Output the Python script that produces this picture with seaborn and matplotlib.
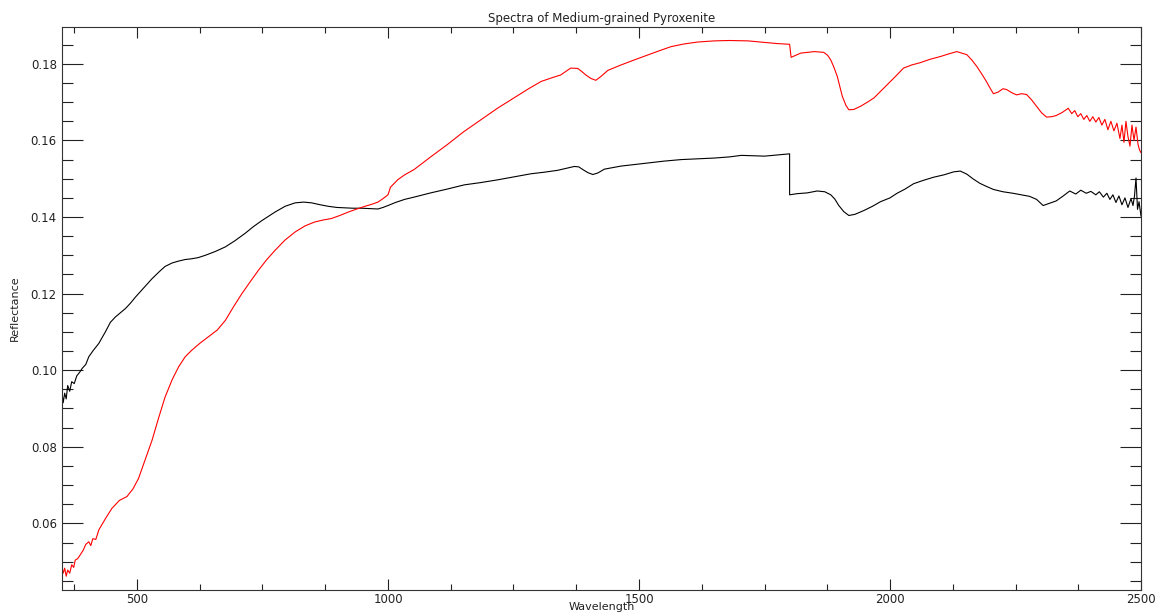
import pandas as pd
import matplotlib
matplotlib.use('Agg')
import matplotlib.pyplot as plt
from matplotlib.ticker import MultipleLocator, FormatStrFormatter
import seaborn as sns

# 검은색 스펙트럼 (wavelength, reflectance)
blackWave = [350, 353, 356, 359, 362, 366, 370, 375, 380, 386, 391, 398, 404, 412, 424,
             437, 447, 457, 467, 477, 487, 497, 510, 530, 545, 556, 570, 583, 596, 609,
             622, 636, 656, 676, 695, 715, 732, 748, 762, 775, 795, 815, 832, 848, 865,
             881, 898, 914, 930, 947, 963, 980, 990, 1000, 1015, 1033, 1052, 1085, 1118,
             1152, 1185, 1218, 1251, 1285, 1311, 1338, 1355, 1371, 1380, 1388, 1398, 1408,
             1418, 1431, 1447, 1464, 1490, 1517, 1550, 1584, 1617, 1650, 1680, 1704, 1730,
             1750, 1775, 1800, 1800, 1815, 1835, 1855, 1870, 1882, 1890, 1898, 1908, 1918,
             1930, 1948, 1965, 1981, 2000, 2014, 2030, 2047, 2067, 2087, 2107, 2127, 2140,
             2153, 2165, 2179, 2192, 2206, 2225, 2245, 2262, 2278, 2292, 2305, 2318, 2331,
             2345, 2358, 2370, 2380, 2391, 2400, 2410, 2417, 2425, 2432, 2438, 2444, 2450,
             2456, 2462, 2468, 2474, 2480, 2484, 2487, 2490, 2493, 2496, 2500]
blackRefl = [0.0950, 0.0915, 0.0940, 0.0925, 0.0960, 0.0945, 0.0970, 0.0965, 0.0985, 0.0995,
             0.1005, 0.1015, 0.1035, 0.1050, 0.1070, 0.1100, 0.1125, 0.1139, 0.1150, 0.1161,
             0.1175, 0.1191, 0.1210, 0.1239, 0.1258, 0.1271, 0.1280, 0.1285, 0.1289, 0.1291,
             0.1294, 0.1300, 0.1310, 0.1322, 0.1338, 0.1357, 0.1375, 0.1390, 0.1402, 0.1413,
             0.1428, 0.1437, 0.1439, 0.1437, 0.1432, 0.1428, 0.1425, 0.1424, 0.1423, 0.1423,
             0.1422, 0.1421, 0.1425, 0.1430, 0.1438, 0.1446, 0.1452, 0.1463, 0.1473, 0.1484,
             0.1490, 0.1497, 0.1505, 0.1513, 0.1517, 0.1522, 0.1527, 0.1532, 0.1531, 0.1524,
             0.1516, 0.1511, 0.1515, 0.1525, 0.1529, 0.1533, 0.1537, 0.1541, 0.1546, 0.1550,
             0.1552, 0.1554, 0.1557, 0.1561, 0.1560, 0.1559, 0.1562, 0.1565, 0.1458, 0.1461,
             0.1463, 0.1468, 0.1466, 0.1458, 0.1447, 0.1430, 0.1414, 0.1404, 0.1407, 0.1417,
             0.1428, 0.1440, 0.1450, 0.1462, 0.1473, 0.1487, 0.1496, 0.1504, 0.1510, 0.1518,
             0.1520, 0.1512, 0.1500, 0.1488, 0.1480, 0.1472, 0.1466, 0.1462, 0.1458, 0.1454,
             0.1446, 0.1430, 0.1436, 0.1442, 0.1455, 0.1468, 0.1460, 0.1470, 0.1462, 0.1467,
             0.1458, 0.1466, 0.1452, 0.1462, 0.1446, 0.1458, 0.1438, 0.1455, 0.1432, 0.1450,
             0.1425, 0.1448, 0.1430, 0.1455, 0.1502, 0.1420, 0.1440, 0.1402]

# 빨간색 스펙트럼
redWave = [350, 353, 356, 359, 362, 366, 370, 374, 377, 382, 388, 393, 398, 404, 408, 412,
           418, 424, 437, 450, 465, 480, 492, 503, 516, 530, 543, 556, 570, 583, 596, 609,
           625, 642, 660, 676, 692, 709, 725, 742, 758, 775, 795, 815, 835, 854, 870, 887,
           904, 921, 938, 954, 967, 980, 990, 1000, 1005, 1020, 1033, 1052, 1085, 1118, 1150,
           1185, 1218, 1251, 1280, 1305, 1325, 1344, 1364, 1378, 1386, 1394, 1404, 1414, 1425,
           1438, 1464, 1490, 1517, 1540, 1564, 1590, 1617, 1650, 1680, 1717, 1750, 1775, 1800,
           1803, 1822, 1849, 1868, 1876, 1882, 1888, 1895, 1905, 1912, 1918, 1928, 1941, 1955,
           1968, 1981, 1994, 2010, 2027, 2043, 2060, 2080, 2100, 2117, 2133, 2143, 2153, 2163,
           2173, 2183, 2192, 2200, 2206, 2215, 2225, 2232, 2242, 2252, 2262, 2272, 2282, 2292,
           2302, 2312, 2322, 2331, 2343, 2355, 2362, 2368, 2374, 2380, 2386, 2392, 2398, 2404,
           2410, 2416, 2422, 2428, 2434, 2440, 2446, 2452, 2458, 2462, 2466, 2470, 2474, 2478,
           2482, 2486, 2490, 2494, 2497, 2500]
redRefl = [0.0488, 0.0470, 0.0483, 0.0462, 0.0478, 0.0470, 0.0492, 0.0485, 0.0504, 0.0508,
           0.0520, 0.0530, 0.0545, 0.0552, 0.0542, 0.0560, 0.0558, 0.0583, 0.0612, 0.0639,
           0.0660, 0.0670, 0.0690, 0.0717, 0.0765, 0.0817, 0.0875, 0.0930, 0.0975, 0.1009,
           0.1035, 0.1052, 0.1070, 0.1087, 0.1105, 0.1130, 0.1165, 0.1200, 0.1230, 0.1261,
           0.1288, 0.1313, 0.1340, 0.1361, 0.1377, 0.1387, 0.1392, 0.1396, 0.1404, 0.1413,
           0.1421, 0.1428, 0.1433, 0.1439, 0.1448, 0.1458, 0.1478, 0.1498, 0.1510, 0.1524,
           0.1557, 0.1589, 0.1622, 0.1654, 0.1684, 0.1711, 0.1735, 0.1754, 0.1763, 0.1771,
           0.1789, 0.1788, 0.1780, 0.1771, 0.1762, 0.1757, 0.1768, 0.1783, 0.1797, 0.1810,
           0.1823, 0.1834, 0.1845, 0.1852, 0.1857, 0.1860, 0.1861, 0.1860, 0.1856, 0.1853,
           0.1851, 0.1817, 0.1828, 0.1832, 0.1830, 0.1822, 0.1810, 0.1792, 0.1767, 0.1715,
           0.1692, 0.1680, 0.1681, 0.1689, 0.1700, 0.1711, 0.1728, 0.1745, 0.1766, 0.1789,
           0.1797, 0.1803, 0.1812, 0.1819, 0.1826, 0.1832, 0.1828, 0.1824, 0.1810, 0.1793,
           0.1773, 0.1754, 0.1735, 0.1722, 0.1726, 0.1735, 0.1733, 0.1725, 0.1719, 0.1722,
           0.1720, 0.1706, 0.1689, 0.1672, 0.1661, 0.1662, 0.1665, 0.1673, 0.1684, 0.1670,
           0.1678, 0.1662, 0.1670, 0.1655, 0.1665, 0.1650, 0.1662, 0.1648, 0.1660, 0.1640,
           0.1655, 0.1628, 0.1650, 0.1625, 0.1645, 0.1605, 0.1640, 0.1595, 0.1650, 0.1610,
           0.1585, 0.1640, 0.1600, 0.1635, 0.1590, 0.1575, 0.1568]

blackDf = pd.DataFrame({'Wavelength': blackWave, 'Reflectance': blackRefl})
redDf = pd.DataFrame({'Wavelength': redWave, 'Reflectance': redRefl})

sns.set_style('ticks')
plt.rcParams['font.family'] = ['DejaVu Sans']

fig = plt.figure(figsize=(11.55, 6.14), dpi=100)
ax = fig.add_axes([0.0534, 0.0391, 0.9345, 0.9174])

sns.lineplot(data=blackDf, x='Wavelength', y='Reflectance', color='black',
             linewidth=0.8, estimator=None, sort=False, ax=ax)
sns.lineplot(data=redDf, x='Wavelength', y='Reflectance', color='red',
             linewidth=0.8, estimator=None, sort=False, ax=ax)

ax.set_xlim(350, 2500)
ax.set_ylim(0.0426, 0.1897)
ax.xaxis.set_major_locator(MultipleLocator(500))
ax.xaxis.set_minor_locator(MultipleLocator(125))
ax.yaxis.set_major_locator(MultipleLocator(0.02))
ax.yaxis.set_minor_locator(MultipleLocator(0.005))
ax.yaxis.set_major_formatter(FormatStrFormatter('%.2f'))

for s in ax.spines.values():
    s.set_color('#333333')
    s.set_linewidth(0.8)

ax.tick_params(axis='both', which='both', direction='in', top=True, right=True,
               colors='#222222', width=0.8, labelsize=8.5, labelcolor='#222222')
ax.tick_params(axis='x', which='major', length=8, pad=2)
ax.tick_params(axis='x', which='minor', length=4.3)
ax.tick_params(axis='y', which='major', length=15, pad=3.5)
ax.tick_params(axis='y', which='minor', length=8)

ax.set_title('Spectra of Medium-grained Pyroxenite', fontsize=8.5, pad=3.5, color='#222222')
ax.set_xlabel('Wavelength', fontsize=8, labelpad=-2.5, color='#222222')
ax.set_ylabel('Reflectance', fontsize=8, labelpad=8, color='#222222')

plt.savefig('out.png', dpi=100)
